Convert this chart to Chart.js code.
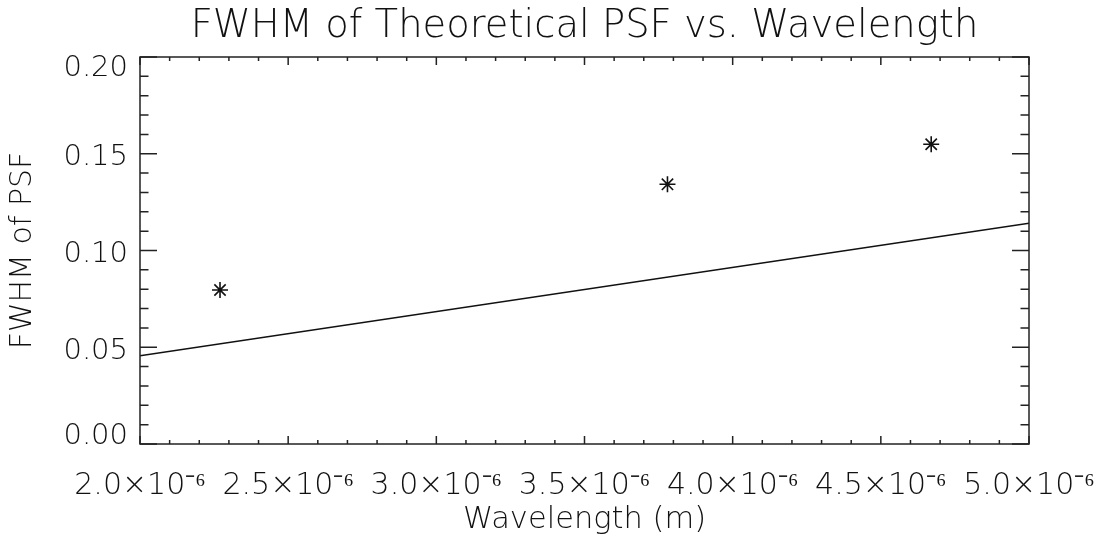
<!DOCTYPE html>
<html>
<head>
<meta charset="utf-8">
<script src="https://cdn.jsdelivr.net/npm/chart.js@4"></script>
<style>
  html, body { margin: 0; padding: 0; background: #ffffff; }
  canvas { display: block; }
</style>
</head>
<body>
<canvas id="c" width="1111" height="537"></canvas>
<script>
// ---- data ----
const wavelengths = [2.27e-6, 3.78e-6, 4.67e-6];
const fwhmMeasured = [0.0796, 0.1342, 0.1549];
const theoryWavelengths = [2.0e-6, 5.0e-6];
const fwhmTheory = [0.0456, 0.1141];

const xTickValues = [2.0e-6, 2.5e-6, 3.0e-6, 3.5e-6, 4.0e-6, 4.5e-6, 5.0e-6];
const xTickLabels = ['2.0×10⁻⁶', '2.5×10⁻⁶', '3.0×10⁻⁶', '3.5×10⁻⁶', '4.0×10⁻⁶', '4.5×10⁻⁶', '5.0×10⁻⁶'];
const yTickValues = [0.00, 0.05, 0.10, 0.15, 0.20];
const yTickLabels = ['0.00', '0.05', '0.10', '0.15', '0.20'];

const xMin = 2.0e-6, xMax = 5.0e-6, xMinorPerMajor = 5;
const yMin = 0.0, yMax = 0.20, yMinorPerMajor = 5;

const FONT = 'DejaVu Sans';
const INK = '#111111';

const idlFrame = {
  id: 'idlFrame',
  afterDraw(chart) {
    const { ctx, chartArea: { left, right, top, bottom }, scales: { x, y } } = chart;
    ctx.save();
    ctx.strokeStyle = '#222222';
    ctx.lineWidth = 1.5;
    ctx.strokeRect(left, top, right - left, bottom - top);
    ctx.beginPath();
    const nx = (xTickValues.length - 1) * xMinorPerMajor;
    for (let i = 0; i <= nx; i++) {
      const v = xMin + i * (xMax - xMin) / nx;
      const px = x.getPixelForValue(v);
      const len = i % xMinorPerMajor === 0 ? 8 : 4;
      ctx.moveTo(px, bottom); ctx.lineTo(px, bottom - len);
      ctx.moveTo(px, top); ctx.lineTo(px, top + len);
    }
    const ny = (yTickValues.length - 1) * yMinorPerMajor;
    for (let i = 0; i <= ny; i++) {
      const v = yMin + i * (yMax - yMin) / ny;
      const py = y.getPixelForValue(v);
      const len = i % yMinorPerMajor === 0 ? 17 : 8.5;
      ctx.moveTo(left, py); ctx.lineTo(left + len, py);
      ctx.moveTo(right, py); ctx.lineTo(right - len, py);
    }
    ctx.stroke();
    ctx.restore();
  }
};

new Chart(document.getElementById('c'), {
  type: 'scatter',
  data: {
    datasets: [
      {
        label: 'Measured FWHM',
        data: wavelengths.map((w, i) => ({ x: w, y: fwhmMeasured[i] })),
        showLine: false,
        pointStyle: 'star',
        pointRadius: 8,
        pointBorderWidth: 1.6,
        borderColor: INK,
        backgroundColor: INK
      },
      {
        label: 'Theoretical FWHM',
        data: theoryWavelengths.map((w, i) => ({ x: w, y: fwhmTheory[i] })),
        showLine: true,
        pointRadius: 0,
        borderWidth: 1.5,
        borderColor: INK,
        fill: false
      }
    ]
  },
  options: {
    responsive: false,
    devicePixelRatio: 1,
    animation: false,
    events: [],
    layout: { padding: { top: 0, right: 82, bottom: 0, left: 0 } },
    plugins: {
      legend: { display: false },
      tooltip: { enabled: false },
      title: {
        display: true,
        fullSize: false,
        text: 'FWHM of Theoretical PSF vs. Wavelength',
        color: INK,
        font: { family: FONT, size: 38.5, weight: '200' },
        padding: { top: 4, bottom: 6.8 }
      }
    },
    scales: {
      x: {
        type: 'linear',
        min: xMin,
        max: xMax,
        afterBuildTicks: s => { s.ticks = xTickValues.map(v => ({ value: v })); },
        afterFit: s => { s.height = 93; s.paddingLeft = 0; s.paddingRight = 0; },
        grid: { display: false, drawTicks: false },
        border: { display: false },
        ticks: {
          color: INK,
          padding: 24,
          maxRotation: 0,
          autoSkip: false,
          font: { family: FONT, size: 30, weight: '200' },
          callback: (v, i) => xTickLabels[i]
        },
        title: {
          display: true,
          text: 'Wavelength (m)',
          color: INK,
          font: { family: FONT, size: 30.5, weight: '200' },
          padding: { top: 0, bottom: -1 }
        }
      },
      y: {
        type: 'linear',
        min: yMin,
        max: yMax,
        afterBuildTicks: s => { s.ticks = yTickValues.map(v => ({ value: v })); },
        afterFit: s => { s.width = 140; s.paddingTop = 0; s.paddingBottom = 0; },
        grid: { display: false, drawTicks: false },
        border: { display: false },
        ticks: {
          color: INK,
          padding: 12,
          labelOffset: 4,
          autoSkip: false,
          font: ctx => ({
            family: FONT, size: 29, weight: '200',
            lineHeight: ctx.index === yTickValues.length - 1 ? '14px' : (ctx.index === 0 ? '24px' : 1.2)
          }),
          callback: (v, i) => {
            if (i === yTickValues.length - 1) return ['', yTickLabels[i]];
            if (i === 0) return [yTickLabels[i], ''];
            return yTickLabels[i];
          }
        },
        title: {
          display: true,
          text: 'FWHM of PSF',
          color: INK,
          font: { family: FONT, size: 30, weight: '200' },
          padding: { top: 5, bottom: 0 }
        }
      }
    }
  },
  plugins: [idlFrame]
});
</script>
</body>
</html>
